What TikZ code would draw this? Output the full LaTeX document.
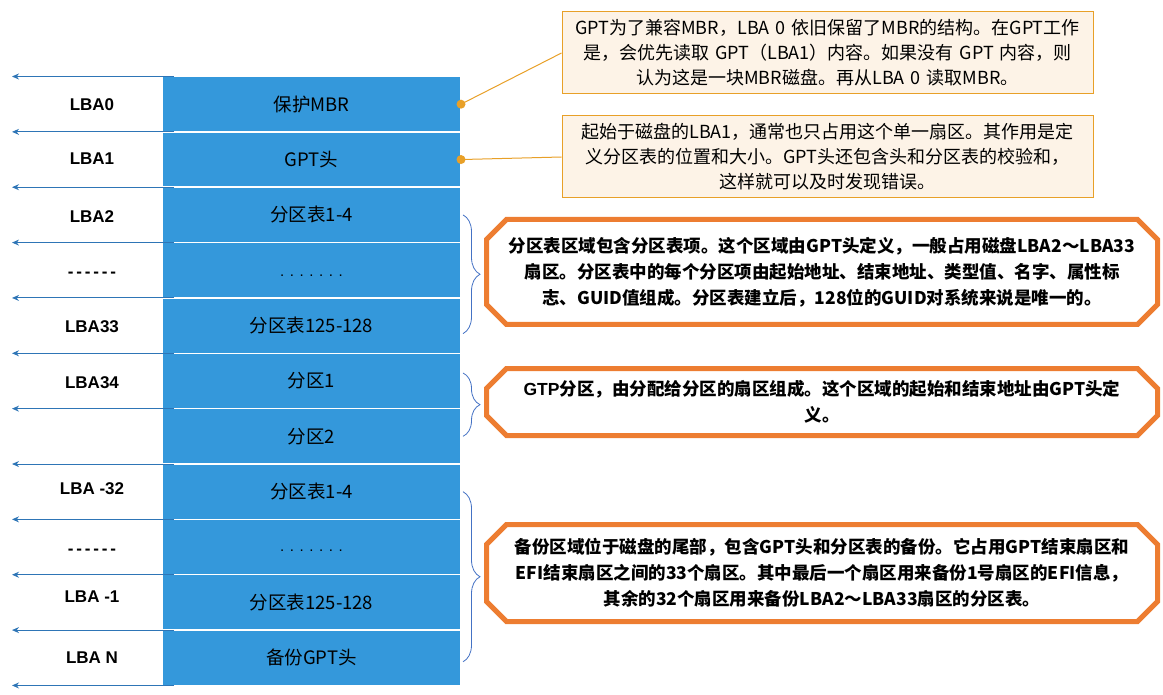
\documentclass[tikz,border=0pt]{standalone}
\usepackage{fontspec}
\setmainfont{Liberation Sans}
\newfontfamily\cjk{Noto Sans CJK SC}
\usepackage[x11names]{xcolor}
\usetikzlibrary{positioning,shapes.misc,decorations.pathreplacing,arrows.meta}

\definecolor{diskblue}{RGB}{52,152,219}
\definecolor{arrowblue}{RGB}{46,117,182}
\definecolor{braceblue}{RGB}{68,114,196}
\definecolor{noteorange}{RGB}{232,160,40}
\definecolor{notefill}{RGB}{253,243,231}
\definecolor{boxorange}{RGB}{237,125,49}

\tikzset{
    row/.style={fill=diskblue, draw=white, line width=1.5pt, outer sep=0pt, inner sep=0pt,
        minimum width=299pt, minimum height=55.36pt, font=\cjk\fontsize{18.5}{20}\selectfont},
    lba/.style={font=\bfseries\fontsize{17}{19}\selectfont},
    lbaarrow/.style={arrowblue, line width=1pt, -{Stealth[length=7pt,width=6pt]}},
    note/.style={draw=noteorange, fill=notefill, line width=1pt, text width=515pt, inner xsep=8pt,
        minimum height=82pt, align=center, font=\cjk\fontsize{18}{25}\selectfont},
    callout/.style={noteorange, line width=1pt},
    infobox/.style={chamfered rectangle, chamfered rectangle xsep=10pt, chamfered rectangle ysep=10pt,
        draw=boxorange, line width=5pt, text width=650pt, inner xsep=0.5pt, inner ysep=0pt, align=center,
        font=\cjk\bfseries\fontsize{17.5}{26}\selectfont},
    span/.style={braceblue, line width=0.8pt, decorate, decoration={brace, amplitude=17pt}}
}

\begin{document}
\begin{tikzpicture}[x=1pt, y=-1pt]
    \useasboundingbox (0,0) rectangle (1163,695);
        %Disk rows
    \node[inner sep=0pt, outer sep=0pt, minimum width=299pt] (r0) at (311.5,76) {};
    \foreach \txt [count=\i, remember=\i as \j (initially 0)] in {保护MBR, GPT头, 分区表1-4,
        {\rmfamily\fontsize{15}{17}\selectfont\raisebox{-6pt}[0pt][0pt]{. . . . . . .}}, 分区表125-128, 分区1, 分区2, 分区表1-4,
        {\rmfamily\fontsize{15}{17}\selectfont\raisebox{-4pt}[0pt][0pt]{. . . . . . .}}, 分区表125-128, 备份GPT头}
    \node[row, below=0pt of r\j] (r\i) {\txt};
        %LBA arrows
    \foreach \i in {0,...,11}{
        \coordinate (a\i) at ([xshift=-150pt]r\i.south west);
        \draw[lbaarrow] ([xshift=12pt]r\i.south west) -- (a\i);
    }
        %LBA labels
    \foreach \y/\lbl [count=\i] in {105/LBA0, 159/LBA1, 217/LBA2, 275/-\,-\,-\,-\,-\,-, 327/LBA33,
        383/LBA34, 489/LBA -32, 552/-\,-\,-\,-\,-\,-, 597/LBA -1, 658/LBA N}
    \node[lba] (l\i) at (92,\y) {\lbl};
        %Notes
    \node[note] (mbrnote) at (827.5,53) {GPT为了兼容MBR，LBA 0 依旧保留了MBR的结构。在GPT工作\\是，会优先读取 GPT（LBA1）内容。如果没有 GPT 内容，则\\认为这是一块MBR磁盘。再从LBA 0 读取MBR。};
    \node[note] (gptnote) at (827.5,157) {起始于磁盘的LBA1，通常也只占用这个单一扇区。其作用是定\\义分区表的位置和大小。GPT头还包含头和分区表的校验和，\\这样就可以及时发现错误。};
    \draw[callout] (r1.east) -- (mbrnote.west);
    \draw[callout] (r2.east) -- (gptnote.west);
    \fill[noteorange] (r1.east) circle (4.5pt);
    \fill[noteorange] (r2.east) circle (4.5pt);
        %Braces
    \draw[span] ([xshift=2pt]r3.east) -- ([xshift=2pt,yshift=-8pt]r5.east);
    \draw[span] ([xshift=2pt,yshift=8pt]r6.east) -- ([xshift=2pt]r7.east);
    \draw[span] ([xshift=2pt]r8.east) -- ([xshift=2pt,yshift=-4pt]r11.east);
        %Region boxes
    \node[infobox, minimum height=105pt] (tablebox) at (822,272) {分区表区域包含分区表项。这个区域由GPT头定义，一般占用磁盘LBA2～LBA33\\扇区。分区表中的每个分区项由起始地址、结束地址、类型值、名字、属性标\\志、GUID值组成。分区表建立后，128位的GUID对系统来说是唯一的。};
    \node[infobox, minimum height=67pt] (partbox) at (822,402) {{\rmfamily GTP}分区，由分配给分区的扇区组成。这个区域的起始和结束地址由GPT头定\\义。};
    \node[infobox, minimum height=97pt] (backupbox) at (822,573) {备份区域位于磁盘的尾部，包含GPT头和分区表的备份。它占用GPT结束扇区和\\EFI结束扇区之间的33个扇区。其中最后一个扇区用来备份1号扇区的EFI信息，\\其余的32个扇区用来备份LBA2～LBA33扇区的分区表。};
\end{tikzpicture}
\end{document}
